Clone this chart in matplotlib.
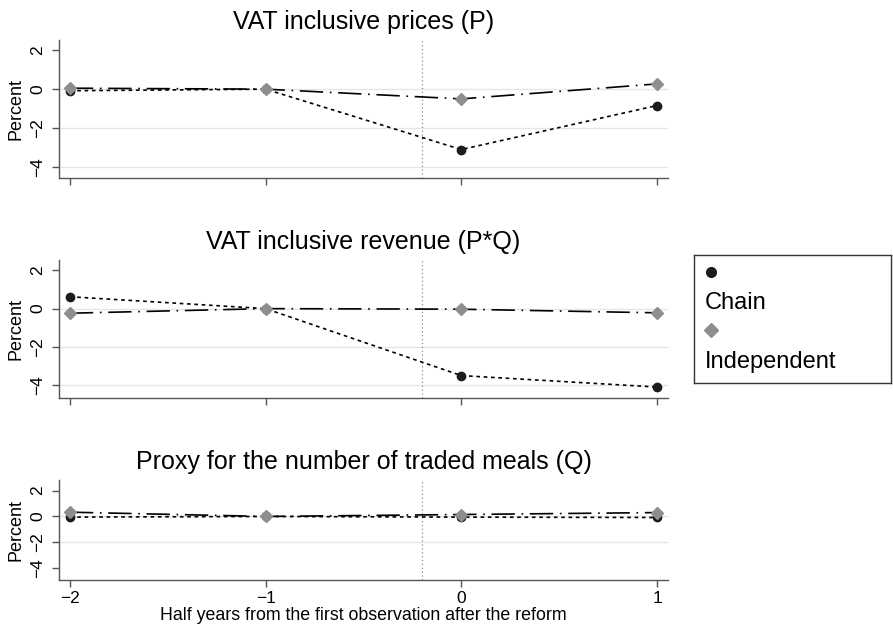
import matplotlib
matplotlib.use("Agg")
import matplotlib.pyplot as plt

plt.rcParams['font.family'] = ['Liberation Sans', 'DejaVu Sans']

# data
periods = [-2, -1, 0, 1]
titles = ["VAT inclusive prices (P)",
          "VAT inclusive revenue (P*Q)",
          "Proxy for the number of traded meals (Q)"]
chain_p = [-0.08, 0.0, -3.1, -0.84]
indep_p = [0.05, 0.0, -0.5, 0.27]
chain_pq = [0.62, 0.0, -3.5, -4.1]
indep_pq = [-0.24, 0.0, -0.03, -0.22]
chain_q = [-0.05, 0.0, -0.05, -0.08]
indep_q = [0.33, 0.0, 0.15, 0.3]
yticks = [2, 0, -2, -4]
reform_x = -0.2

chain_series = [chain_p, chain_pq, chain_q]
indep_series = [indep_p, indep_pq, indep_q]

fig = plt.figure(figsize=(8.93, 6.29), dpi=100)

# axes boxes
boxes = [[0.066, 0.717, 0.682, 0.219],
         [0.066, 0.367, 0.682, 0.219],
         [0.066, 0.078, 0.682, 0.159]]
ylims = [(-4.56, 2.51), (-4.68, 2.52), (-4.9, 2.82)]
grids = [[0, -2, -4], [0, -2, -4], [0, -2]]

spine_col = '#555555'
for i in range(3):
    ax = fig.add_axes(boxes[i])
    for g in grids[i]:
        ax.axhline(g, color='#e6e6e6', lw=1.0, zorder=0)
    ax.axvline(reform_x, color='#777777', lw=0.8, ls=(0, (1, 2.5)), zorder=1)
    ax.plot(periods, chain_series[i], color='black', lw=1.2, ls=(0, (2.2, 2.2)),
            marker='o', ms=6, mfc='#1c1c1c', mec='#1c1c1c', zorder=3)
    ax.plot(periods, indep_series[i], color='black', lw=1.2,
            ls=(0, (14, 4, 1, 4)),
            marker='D', ms=6.5, mfc='#8e8e8e', mec='#8e8e8e', zorder=3)
    ax.set_xlim(-2.056, 1.056)
    ax.set_ylim(*ylims[i])
    ax.set_yticks(yticks)
    ax.set_yticklabels([str(t).replace('-', '\u2212') for t in yticks],
                       rotation=90, va='center', fontsize=12.5)
    ax.set_xticks(periods)
    if i == 2:
        ax.set_xticklabels([str(t).replace('-', '\u2212') for t in periods], fontsize=12.5)
        ax.set_xlabel("Half years from the first observation after the reform",
                      fontsize=12.8, labelpad=1)
    else:
        ax.set_xticklabels([])
    ax.set_ylabel("Percent", fontsize=13, labelpad=4)
    ax.set_title(titles[i], fontsize=18, pad=8)
    for s in ['top', 'right']:
        ax.spines[s].set_visible(False)
    for s in ['left', 'bottom']:
        ax.spines[s].set_color(spine_col)
        ax.spines[s].set_linewidth(1.0)
    ax.tick_params(direction='out', length=5, width=1, color=spine_col)
    ax.tick_params(axis='y', pad=5)
    ax.tick_params(axis='x', pad=3)

# legend box, Stata style (marker above its label)
lax = fig.add_axes([0.777, 0.391, 0.221, 0.2035])
lax.set_xlim(0, 197)
lax.set_ylim(128, 0)
lax.set_xticks([])
lax.set_yticks([])
for s in lax.spines.values():
    s.set_color('#333333')
    s.set_linewidth(1.0)
lax.plot([17], [16.5], marker='o', ms=7, color='#1c1c1c', ls='none')
lax.text(11, 48, "Chain", fontsize=17, va='center', ha='left')
lax.plot([17], [75], marker='D', ms=7, color='#8e8e8e', ls='none')
lax.text(11, 107, "Independent", fontsize=17, va='center', ha='left')

fig.savefig("out.png", dpi=100)
